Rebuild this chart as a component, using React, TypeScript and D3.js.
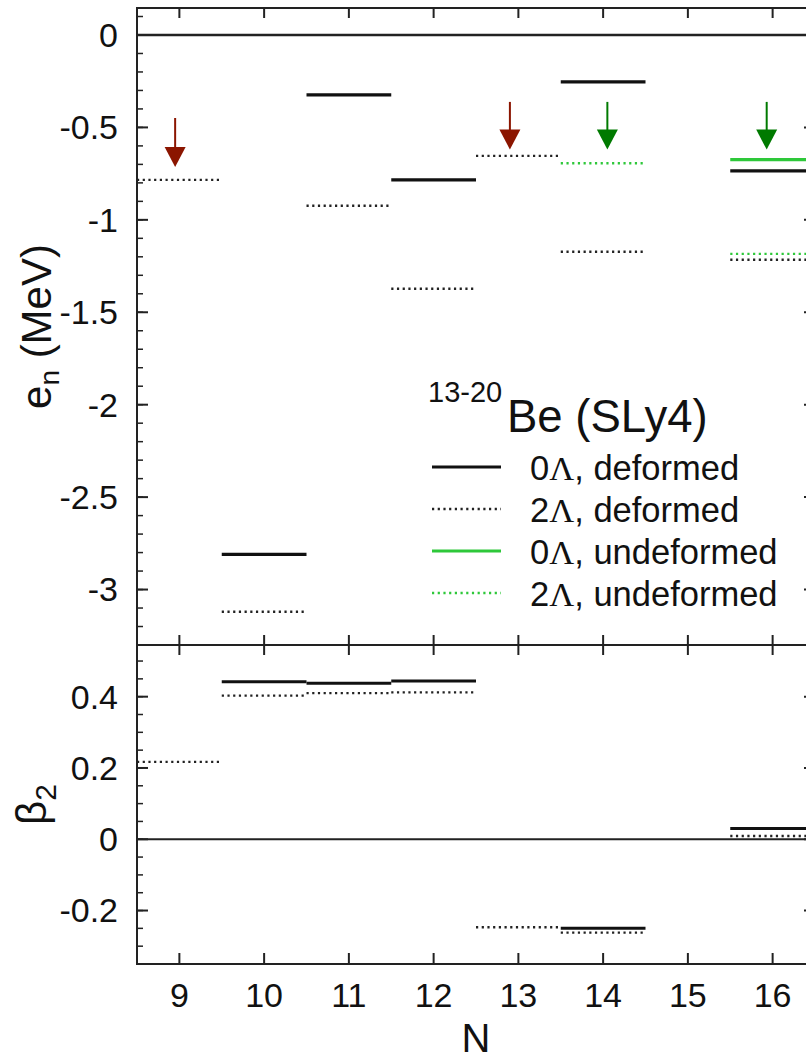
import React from 'react';
import * as d3 from 'd3';

// neutron number N for 13-20Be
const nValues = [9, 10, 11, 12, 13, 14, 15, 16];

// e_n (MeV)
const en0Def = [null, -2.81, -0.324, -0.784, null, -0.254, null, -0.735];
const en2Def = [-0.784, -3.12, -0.924, -1.373, -0.654, -1.173, null, -1.216];
const en0Undef = [null, null, null, null, null, null, null, -0.674];
const en2Undef = [null, null, null, null, null, -0.694, null, -1.184];

// beta_2
const beta0Def = [null, 0.442, 0.438, 0.444, null, -0.25, null, 0.03];
const beta2Def = [0.217, 0.403, 0.41, 0.412, -0.247, -0.262, null, 0.009];

// arrows (N, tail, tip in MeV)
const arrowN = [8.95, 12.9, 14.05, 15.93];
const arrowTail = [-0.449, -0.362, -0.362, -0.362];
const arrowTip = [-0.714, -0.62, -0.62, -0.62];
const arrowColors = ['#8b1500', '#8b1500', '#007a00', '#007a00'];

const enTicks = [0, -0.5, -1, -1.5, -2, -2.5, -3];
const betaTicks = [0.4, 0.2, 0, -0.2];

const FONT = '"Liberation Sans", Arial, Helvetica, sans-serif';
const GREEN = '#2ec83a';
const DOT = '2.2,3.5';

const left = 137;
const right = 815;
const top = 8;
const mid = 645;
const bottom = 964;

const x = d3.scaleLinear().domain([8.5, 16.5]).range([left, right]);
const yE = d3.scaleLinear().domain([-3.3, 0.146]).range([mid, top]);
const yB = d3.scaleLinear().domain([-0.35, 0.545]).range([bottom, mid]);

const Levels = ({ vals, y, color, dotted, width }) => (
  <g>
    {vals.map((v, i) =>
      v === null ? null : (
        <line
          key={i}
          x1={x(nValues[i] - 0.5)}
          x2={x(nValues[i] + 0.5)}
          y1={y(v)}
          y2={y(v)}
          stroke={color}
          strokeWidth={width}
          strokeDasharray={dotted ? DOT : undefined}
        />
      )
    )}
  </g>
);

const YAxis = ({ y, major, minorStep, lo, hi, fmt }) => {
  const minor = d3.range(Math.ceil(lo / minorStep - 1e-6), Math.floor(hi / minorStep + 1e-6) + 1).map((k) => k * minorStep);
  return (
    <g>
      {minor.map((t, i) => (
        <g key={'m' + i}>
          <line x1={left} x2={left + 6} y1={y(t)} y2={y(t)} stroke="#222" strokeWidth={1.5} />
          <line x1={right} x2={right - 6} y1={y(t)} y2={y(t)} stroke="#222" strokeWidth={1.5} />
        </g>
      ))}
      {major.map((t, i) => (
        <g key={'M' + i}>
          <line x1={left} x2={left + 11} y1={y(t)} y2={y(t)} stroke="#222" strokeWidth={2} />
          <line x1={right} x2={right - 11} y1={y(t)} y2={y(t)} stroke="#222" strokeWidth={2} />
          <text x={118} y={y(t)} dy="0.35em" textAnchor="end" fontSize={34} fontFamily={FONT} fill="#111">
            {fmt(t)}
          </text>
        </g>
      ))}
    </g>
  );
};

const legendRows = [
  { color: '#111', dotted: false, w: 3, n: '0', label: ', deformed' },
  { color: '#222', dotted: true, w: 2.4, n: '2', label: ', deformed' },
  { color: GREEN, dotted: false, w: 3, n: '0', label: ', undeformed' },
  { color: GREEN, dotted: true, w: 2.4, n: '2', label: ', undeformed' },
];

export default function App() {
  const fmt = (t) => (t === 0 ? '0' : String(t));
  return (
    <svg width={806} height={1064} style={{ position: 'absolute', left: 0, top: 0, background: '#fff' }}>
      {/* zero lines */}
      <line x1={left} x2={right} y1={yE(0)} y2={yE(0)} stroke="#222" strokeWidth={2.5} />
      <line x1={left} x2={right} y1={yB(0)} y2={yB(0)} stroke="#222" strokeWidth={2} />

      {/* upper panel levels */}
      <Levels vals={en2Def} y={yE} color="#222" dotted width={2.4} />
      <Levels vals={en2Undef} y={yE} color={GREEN} dotted width={2.4} />
      <Levels vals={en0Def} y={yE} color="#111" width={3.2} />
      <Levels vals={en0Undef} y={yE} color={GREEN} width={3.2} />

      {/* lower panel levels */}
      <Levels vals={beta2Def} y={yB} color="#222" dotted width={2.4} />
      <Levels vals={beta0Def} y={yB} color="#111" width={3} />

      {/* arrows */}
      {arrowN.map((n, i) => {
        const cx = x(n);
        const tip = yE(arrowTip[i]);
        return (
          <g key={i}>
            <line x1={cx} x2={cx} y1={yE(arrowTail[i])} y2={tip - 18} stroke={arrowColors[i]} strokeWidth={2} />
            <path d={`M${cx - 10.5},${tip - 20}L${cx + 10.5},${tip - 20}L${cx},${tip}Z`} fill={arrowColors[i]} />
          </g>
        );
      })}

      {/* y axes */}
      <YAxis y={yE} major={enTicks} minorStep={0.1} lo={-3.3} hi={0.146} fmt={fmt} />
      <YAxis y={yB} major={betaTicks} minorStep={0.05} lo={-0.35} hi={0.545} fmt={fmt} />

      {/* x ticks */}
      {nValues.map((n) => (
        <g key={n}>
          <line x1={x(n)} x2={x(n)} y1={top} y2={top + 10} stroke="#222" strokeWidth={2} />
          <line x1={x(n)} x2={x(n)} y1={mid} y2={mid - 10} stroke="#222" strokeWidth={2} />
          <line x1={x(n)} x2={x(n)} y1={mid} y2={mid + 10} stroke="#222" strokeWidth={2} />
          <line x1={x(n)} x2={x(n)} y1={bottom} y2={bottom - 11} stroke="#222" strokeWidth={2} />
          <text x={x(n)} y={1007} textAnchor="middle" fontSize={34} fontFamily={FONT} fill="#111">
            {n}
          </text>
        </g>
      ))}

      {/* frames */}
      <rect x={left} y={top} width={right - left} height={mid - top} fill="none" stroke="#222" strokeWidth={2} />
      <rect x={left} y={mid} width={right - left} height={bottom - mid} fill="none" stroke="#222" strokeWidth={2} />

      {/* axis labels */}
      <text x={(left + right) / 2} y={1052} textAnchor="middle" fontSize={40} fontFamily={FONT} fill="#111">
        N
      </text>
      <text
        transform={`translate(51,${(top + mid) / 2}) rotate(-90)`}
        textAnchor="middle"
        fontSize={42}
        fontFamily={FONT}
        fill="#111"
      >
        e<tspan fontSize={28} dy={8}>n</tspan>
        <tspan dy={-8}> (MeV)</tspan>
      </text>
      <text
        transform={`translate(46,${(mid + bottom) / 2}) rotate(-90)`}
        textAnchor="middle"
        fontSize={42}
        fontFamily={FONT}
        fill="#111"
      >
        β<tspan fontSize={30} dy={10}>2</tspan>
      </text>

      {/* legend */}
      <text x={428} y={402} fontSize={29} fontFamily={FONT} fill="#111">
        13-20
      </text>
      <text x={507} y={432} fontSize={45.5} fontFamily={FONT} fill="#111">
        Be (SLy4)
      </text>
      {legendRows.map((r, i) => {
        const ly = 467 + i * 42;
        return (
          <g key={i}>
            <line
              x1={432}
              x2={501}
              y1={ly}
              y2={ly}
              stroke={r.color}
              strokeWidth={r.w}
              strokeDasharray={r.dotted ? DOT : undefined}
            />
            <text x={530} y={ly + 13} fontSize={34.5} fontFamily={FONT} fill="#111">
              {r.n}
              <tspan fontFamily='"Liberation Serif", "DejaVu Serif", serif'>Λ</tspan>
              {r.label}
            </text>
          </g>
        );
      })}
    </svg>
  );
}
